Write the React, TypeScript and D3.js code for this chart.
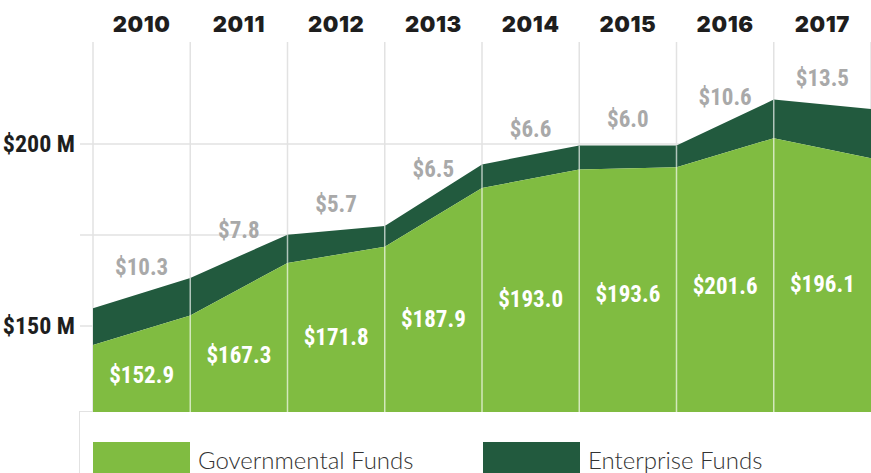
import React, { useEffect, useRef } from "react";
import * as d3 from "d3";

// fiscal years shown as columns
const years = ["2010", "2011", "2012", "2013", "2014", "2015", "2016", "2017"];
// edge values ($M): first entry is the opening point at the left edge
const governmental = [144.8, 152.9, 167.3, 171.8, 187.9, 193.0, 193.6, 201.6, 196.1];
const enterprise = [10.1, 10.3, 7.8, 5.7, 6.5, 6.6, 6.0, 10.6, 13.5];
const yTicks = [150, 175, 200];
const yTickLabels = ["$150 M", "", "$200 M"];
const legendLabels = ["Governmental Funds", "Enterprise Funds"];

const LIGHT = "#80bc41";
const DARK = "#225a3e";
const CONDENSED = "'Roboto Condensed', 'Liberation Sans Narrow', 'DejaVu Sans Condensed', 'Roboto', sans-serif";

export default function App() {
  const ref = useRef<SVGSVGElement>(null);

  useEffect(() => {
    const width = 871;
    const left = 93, right = 871, top = 42, bottom = 412;

    const svg = d3.select(ref.current);
    svg.selectAll("*").remove();

    const x = d3.scaleLinear().domain([0, years.length]).range([left, right]);
    const y = d3.scaleLinear().domain([150, 200]).range([326, 144]);

    const pts = governmental.map((g, i) => ({ i, g, t: g + enterprise[i] }));

    // horizontal gridlines (behind areas)
    svg.append("g")
      .selectAll("line")
      .data(yTicks)
      .enter().append("line")
      .attr("x1", 80).attr("x2", width)
      .attr("y1", d => y(d)).attr("y2", d => y(d))
      .attr("stroke", "#e2e2e2").attr("stroke-width", 1.5);

    // legend box
    svg.append("rect")
      .attr("x", 79.5).attr("y", bottom - 0.5)
      .attr("width", width).attr("height", 80)
      .attr("fill", "#fff").attr("stroke", "#e2e2e2").attr("stroke-width", 1);

    // vertical gridlines, light part behind
    svg.append("g")
      .selectAll("line")
      .data(d3.range(years.length + 1))
      .enter().append("line")
      .attr("x1", d => x(d)).attr("x2", d => x(d))
      .attr("y1", top).attr("y2", bottom)
      .attr("stroke", "#e2e2e2").attr("stroke-width", 1.5);

    svg.append("path")
      .datum(pts)
      .attr("fill", DARK)
      .attr("d", d3.area<any>().x(d => x(d.i)).y0(d => y(d.g)).y1(d => y(d.t)));

    svg.append("path")
      .datum(pts)
      .attr("fill", LIGHT)
      .attr("d", d3.area<any>().x(d => x(d.i)).y0(bottom).y1(d => y(d.g)));

    // vertical gridlines over the areas
    svg.append("g")
      .selectAll("line")
      .data(d3.range(1, years.length))
      .enter().append("line")
      .attr("x1", d => x(d)).attr("x2", d => x(d))
      .attr("y1", d => y(pts[d].t)).attr("y2", bottom)
      .attr("stroke", "#ffffff").attr("stroke-opacity", 0.65).attr("stroke-width", 1.5);

    // year labels
    svg.append("g")
      .selectAll("text")
      .data(years)
      .enter().append("text")
      .attr("x", (d, i) => x(i + 0.5))
      .attr("y", 32)
      .attr("text-anchor", "middle")
      .style("font-family", "Inter, sans-serif")
      .style("font-weight", 900)
      .style("font-size", "22px")
      .style("letter-spacing", "0.6px")
      .attr("fill", "#1e1e1e")
      .text(d => d);

    // y labels
    svg.append("g")
      .selectAll("text")
      .data(yTicks)
      .enter().append("text")
      .attr("x", 75)
      .attr("y", d => y(d) + 8)
      .attr("text-anchor", "end")
      .style("font-family", CONDENSED)
      .style("font-weight", 700)
      .style("font-size", "24px")
      .attr("fill", "#1e1e1e")
      .text((d, i) => yTickLabels[i]);

    // governmental value labels
    svg.append("g")
      .selectAll("text")
      .data(years)
      .enter().append("text")
      .attr("x", (d, i) => x(i + 0.5))
      .attr("y", (d, i) => ((y(governmental[i]) + y(governmental[i + 1])) / 2 + bottom) / 2 + 12)
      .attr("text-anchor", "middle")
      .style("font-family", CONDENSED)
      .style("font-weight", 700)
      .style("font-size", "23px")
      .attr("fill", "#ffffff")
      .text((d, i) => "$" + governmental[i + 1].toFixed(1));

    // enterprise value labels
    svg.append("g")
      .selectAll("text")
      .data(years)
      .enter().append("text")
      .attr("x", (d, i) => x(i + 0.5))
      .attr("y", (d, i) => (y(pts[i].t) + y(pts[i + 1].t)) / 2 - 18)
      .attr("text-anchor", "middle")
      .style("font-family", CONDENSED)
      .style("font-weight", 700)
      .style("font-size", "23px")
      .attr("fill", "#a9a9a9")
      .text((d, i) => "$" + enterprise[i + 1].toFixed(1));

    // legend
    const lg = svg.append("g");
    [LIGHT, DARK].forEach((c, i) => {
      const lx = i === 0 ? 93 : 483;
      lg.append("rect").attr("x", lx).attr("y", 442).attr("width", 97).attr("height", 40).attr("fill", c);
      lg.append("text")
        .attr("x", lx + 105).attr("y", 469)
        .style("font-family", "Lato, sans-serif")
        .style("font-weight", 300)
        .style("font-size", "24px")
        .attr("fill", "#333")
        .text(legendLabels[i]);
    });
  }, []);

  return (
    <svg ref={ref} width={871} height={473}
      style={{ position: "absolute", left: 0, top: 0, background: "#fff" }} />
  );
}
